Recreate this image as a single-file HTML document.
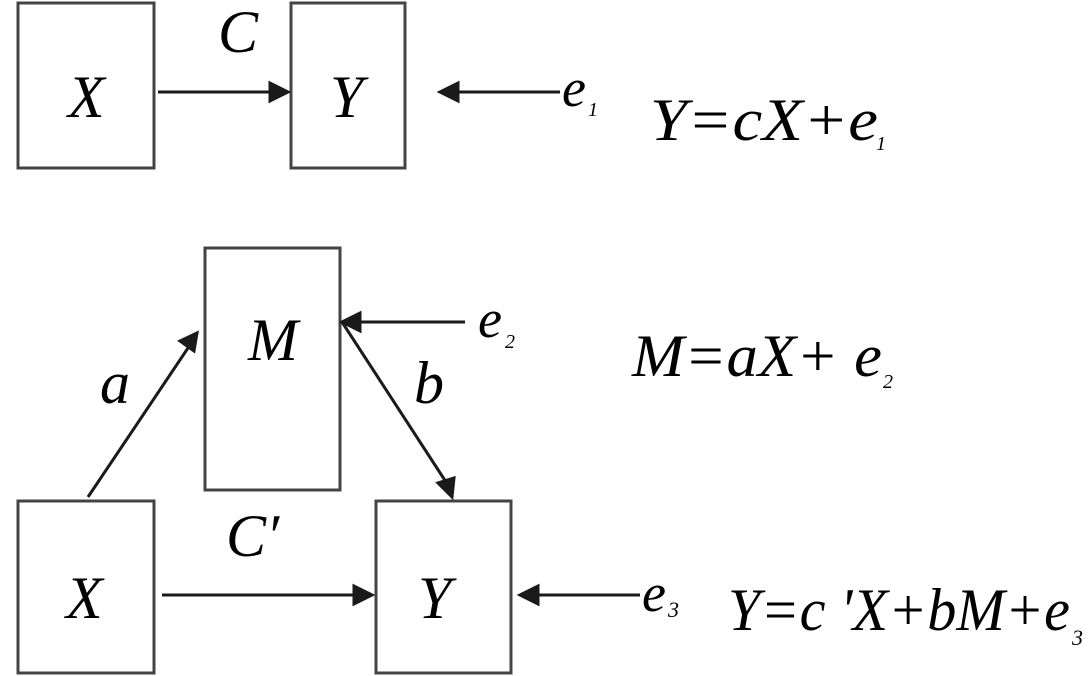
<!DOCTYPE html>
<html><head><meta charset="utf-8"><style>
html,body{margin:0;padding:0;background:#fff;width:1088px;height:676px;overflow:hidden}
svg{display:block}
</style></head><body>
<svg width="1088" height="676" viewBox="0 0 1088 676" xmlns="http://www.w3.org/2000/svg">
<g fill="none" stroke="#444" stroke-width="3">
<rect x="18" y="3" width="136" height="165"/>
<rect x="291" y="3" width="114" height="165"/>
<rect x="205" y="248" width="135" height="242"/>
<rect x="18" y="501" width="136" height="172"/>
<rect x="376" y="501" width="135" height="172"/>
</g>
<g stroke="#1a1a1a" stroke-width="3" fill="#1a1a1a">
<line x1="158" y1="92" x2="272" y2="92"/><polygon points="288,92 270,83 270,101"/>
<line x1="560" y1="92" x2="456" y2="92"/><polygon points="440,92 458,83 458,101"/>
<line x1="465" y1="322" x2="358" y2="322"/><polygon points="342,322 360,313 360,331"/>
<line x1="88" y1="497" x2="190" y2="345"/><polygon points="197,333 180,341 194,351" />
<line x1="342" y1="322" x2="446" y2="482"/><polygon points="452,497 438,483 454,478"/>
<line x1="162" y1="595" x2="355" y2="595"/><polygon points="372,595 354,586 354,604"/>
<line x1="640" y1="595" x2="537" y2="595"/><polygon points="520,595 538,586 538,604"/>
</g>
<g stroke="none" fill="#000" font-family="'Liberation Serif', 'Times New Roman', Times, serif" font-style="italic">
<text x="68" y="117" font-size="60">X</text>
<text x="330" y="117" font-size="60">Y</text>
<text x="218" y="52" font-size="60">C</text>
<text x="562" y="106" font-size="54">e</text><text x="588" y="116" font-size="20">1</text>
<text x="650" y="140" font-size="60" textLength="228" lengthAdjust="spacingAndGlyphs">Y=cX+e</text><text x="876" y="150" font-size="20">1</text>
<text x="248" y="360" font-size="60">M</text>
<text x="100" y="403" font-size="60">a</text>
<text x="414" y="403" font-size="60">b</text>
<text x="478" y="337" font-size="54">e</text><text x="505" y="348" font-size="20">2</text>
<text x="632" y="376" font-size="60" textLength="250" lengthAdjust="spacingAndGlyphs">M=aX+ e</text><text x="883" y="388" font-size="20">2</text>
<text x="226" y="556" font-size="60">C′</text>
<text x="66" y="618" font-size="60">X</text>
<text x="418" y="618" font-size="60">Y</text>
<text x="642" y="611" font-size="54">e</text><text x="668" y="617" font-size="22">3</text>
<text x="728" y="630" font-size="60" textLength="342" lengthAdjust="spacingAndGlyphs">Y=c 'X+bM+e</text><text x="1072" y="645" font-size="22">3</text>
</g>
</svg>
</body></html>
